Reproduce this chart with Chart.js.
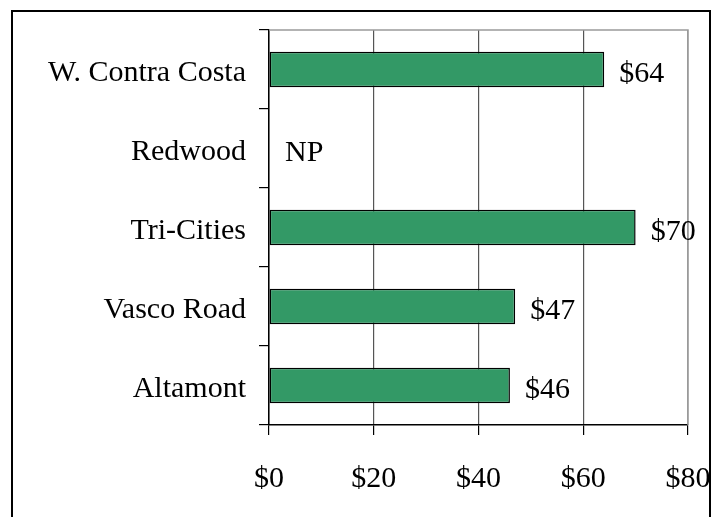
<!DOCTYPE html>
<html>
<head>
<meta charset="utf-8">
<script src="https://cdn.jsdelivr.net/npm/chart.js@4/dist/chart.umd.min.js"></script>
<style>
  html, body { margin: 0; padding: 0; background: #fff; }
  #wrap { position: relative; width: 715px; height: 517px; overflow: hidden; }
  #frame { position: absolute; left: 11px; top: 10px; width: 700px; height: 520px;
           border: 2px solid #000; box-sizing: border-box; pointer-events: none; }
  canvas { position: absolute; left: 0; top: 0; }
</style>
</head>
<body>
<div id="wrap">
  <canvas id="chart" width="715" height="517"></canvas>
  <div id="frame"></div>
</div>
<script>
// annual cost per site, NP = not provided
const sites  = ['W. Contra Costa', 'Redwood', 'Tri-Cities', 'Vasco Road', 'Altamont'];
const costs  = [64, null, 70, 47, 46];
const xTicks = [0, 20, 40, 60, 80];

const FONT = 'Liberation Serif, Times New Roman, serif';
Chart.defaults.font.family = FONT;
Chart.defaults.font.size = 30;
Chart.defaults.color = '#000';

// gray border on top and right of the plot area
const plotFrame = {
  id: 'plotFrame',
  beforeDatasetsDraw(chart){
    const { ctx, chartArea: a } = chart;
    ctx.save();
    ctx.strokeStyle = '#9a9a9a';
    ctx.lineWidth = 1.5;
    ctx.beginPath();
    ctx.moveTo(a.left, a.top);
    ctx.lineTo(a.right, a.top);
    ctx.lineTo(a.right, a.bottom);
    ctx.stroke();
    ctx.restore();
  }
};

// value text right of each bar, "NP" where the value is missing
const valueLabels = {
  id: 'valueLabels',
  afterDatasetsDraw(chart){
    const { ctx } = chart;
    const xs = chart.scales.x, ys = chart.scales.y;
    const meta = chart.getDatasetMeta(0);
    ctx.save();
    ctx.font = '30px ' + FONT;
    ctx.fillStyle = '#000';
    ctx.textAlign = 'left';
    ctx.textBaseline = 'middle';
    costs.forEach((v, i) => {
      const y = ys.getPixelForValue(i) + 5;
      if(v == null){
        ctx.fillText('NP', xs.getPixelForValue(0) + 16, y);
      } else {
        ctx.fillText('$' + v, meta.data[i].x + 15, y);
      }
    });
    ctx.restore();
  }
};

new Chart(document.getElementById('chart'), {
  type: 'bar',
  data: {
    labels: sites,
    datasets: [{
      data: costs,
      backgroundColor: '#339966',
      borderColor: '#000',
      borderWidth: 1.5,
      borderSkipped: false,
      categoryPercentage: 1,
      barPercentage: 0.45
    }]
  },
  options: {
    indexAxis: 'y',
    responsive: false,
    animation: false,
    layout: { padding: { top: 30, right: 27, left: 0, bottom: 0 } },
    plugins: { legend: { display: false }, tooltip: { enabled: false } },
    scales: {
      x: {
        min: 0, max: 80,
        afterBuildTicks: s => { s.ticks = xTicks.map(v => ({ value: v })); },
        afterFit: s => { s.height = 92; s.paddingLeft = 0; s.paddingRight = 0; },
        border: { color: '#000', width: 1.5 },
        grid: {
          drawOnChartArea: true, drawTicks: true, tickLength: 10,
          color: c => c.tick && c.tick.value === 80 ? '#9a9a9a' : '#555',
          tickColor: '#000', lineWidth: 1.2
        },
        ticks: { padding: 26, callback: v => '$' + v, maxRotation: 0 }
      },
      y: {
        afterFit: s => { s.width = 269; s.paddingTop = 0; s.paddingBottom = 0; },
        border: { color: '#000', width: 1.5 },
        grid: {
          offset: true, drawOnChartArea: false, drawTicks: true,
          tickLength: 10, tickColor: '#000', lineWidth: 1.2
        },
        ticks: { padding: 13, autoSkip: false, labelOffset: 4 }
      }
    }
  },
  plugins: [plotFrame, valueLabels]
});
</script>
</body>
</html>
